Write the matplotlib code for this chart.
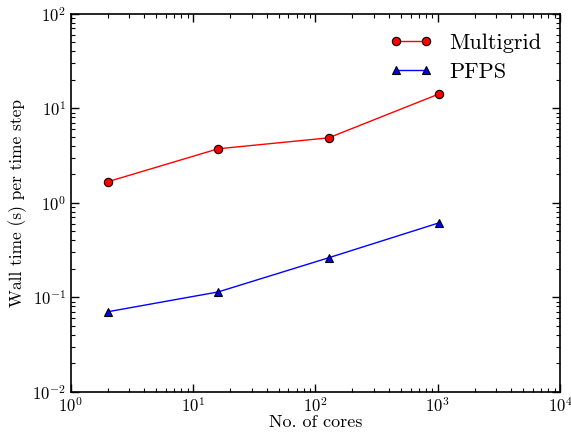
import numpy as np
import matplotlib
matplotlib.use("Agg")
import matplotlib.pyplot as plt

plt.rcParams['font.family'] = ['cmr10', 'DejaVu Serif']
plt.rcParams['mathtext.fontset'] = 'cm'
plt.rcParams['axes.formatter.use_mathtext'] = True
plt.rcParams['font.size'] = 12

# so loi va thoi gian moi buoc
cores = [2, 16, 128, 1024]
multigrid = [1.67, 3.73, 4.87, 14.2]
pfps = [0.0703, 0.114, 0.262, 0.614]

fig = plt.figure(figsize=(5.71, 4.32), dpi=100)
ax = fig.add_axes([0.124, 0.093, 0.857, 0.875])

ax.loglog(cores, multigrid, '-o', color='red', lw=1, ms=6,
          mfc='red', mec='black', mew=0.8, label='Multigrid')
ax.loglog(cores, pfps, '-^', color='blue', lw=1, ms=6,
          mfc='blue', mec='black', mew=0.8, label='PFPS')

ax.set_xlim(1, 1e4)
ax.set_ylim(1e-2, 1e2)
ax.set_xlabel('No. of cores', labelpad=0, fontsize=13)
ax.set_ylabel('Wall time (s) per time step', labelpad=4, fontsize=12.5)

ax.tick_params(which='both', direction='in', top=True, right=True)
ax.tick_params(which='major', length=6, width=1)
ax.tick_params(which='minor', length=3, width=0.8)
ax.tick_params(axis='x', pad=3)
for s in ax.spines.values():
    s.set_linewidth(1.2)

ax.legend(loc='upper right', frameon=False, fontsize=16, numpoints=2,
          handlelength=1.95, handletextpad=0.75, labelspacing=0.45,
          bbox_to_anchor=(1.003, 1.002))

fig.savefig('out.png', dpi=100)
